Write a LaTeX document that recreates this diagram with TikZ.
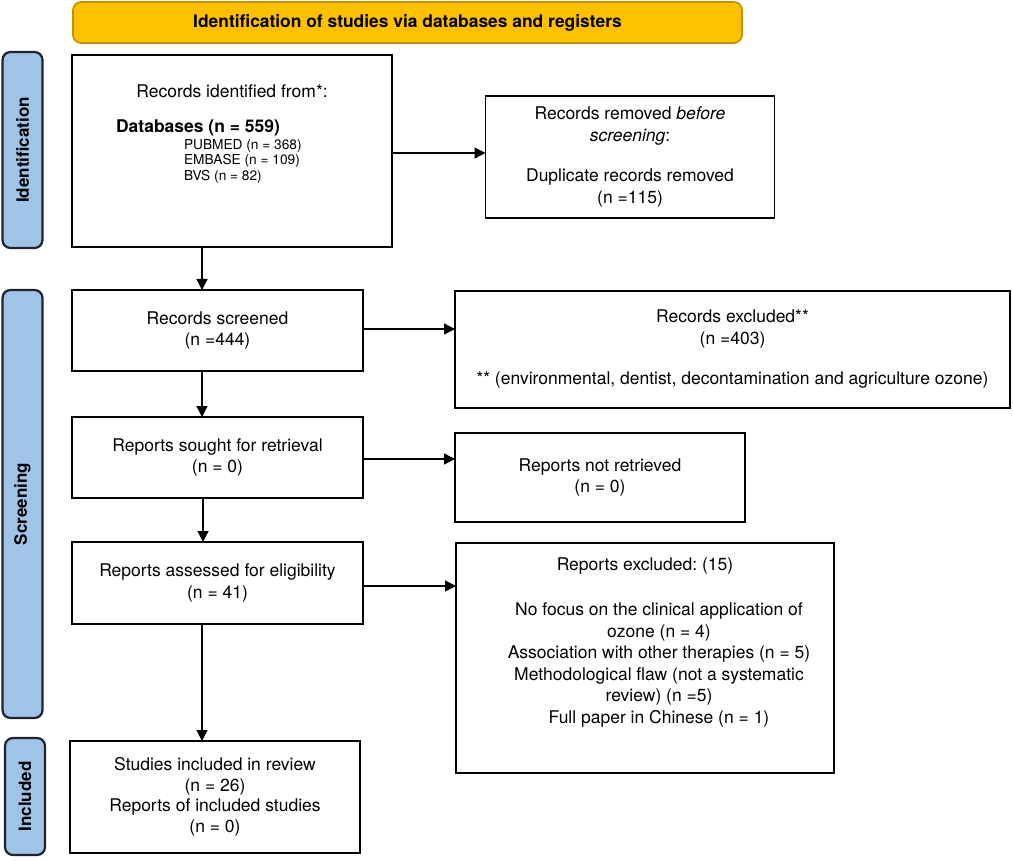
\documentclass[tikz,border=0pt]{standalone}
\usepackage{fontspec}
\setmainfont{TeX Gyre Heros}
\frenchspacing
\usetikzlibrary{arrows.meta}
\definecolor{hdrfill}{RGB}{255,192,0}
\definecolor{hdrdraw}{RGB}{191,144,0}
\definecolor{sidefill}{RGB}{160,196,232}
\definecolor{sidedraw}{RGB}{30,35,45}
\tikzset{
  every node/.style={inner sep=0pt, outer sep=0pt},
  txt/.style={font=\fontsize{17.5}{21.5}\selectfont, align=center},
  box/.style={draw=black, line width=1.8pt, txt, minimum width=#1},
  sidelab/.style={draw=sidedraw, fill=sidefill, line width=2.2pt, rounded corners=8pt, rotate=90,
    font=\fontsize{17}{20}\selectfont\bfseries, minimum height=40pt},
  arr/.style={line width=1.3pt, -{Triangle[length=11pt,width=11pt]}},
}
\begin{document}
\begin{tikzpicture}[x=1pt,y=-1pt]
\useasboundingbox (0,0) rectangle (1013,861);
% header
\node[draw=hdrdraw, fill=hdrfill, line width=1.6pt, rounded corners=8pt, minimum width=669pt, minimum height=41pt,
  font=\fontsize{17.4}{20}\selectfont\bfseries] (hdr) at (407.5,22.5) {Identification of studies via databases and registers};
% side labels
\node[sidelab, minimum width=196pt] (sid) at (22.5,150) {Identification};
\node[sidelab, minimum width=428pt] (sscr) at (22.5,504) {Screening};
\node[sidelab, minimum width=117pt] (sinc) at (25,796.5) {Included};
% box 1
\node[box=320pt, minimum height=192pt] (b1) at (232,151) {};
\node[txt, anchor=base] (t1a) at (232,98) {Records identified from*:};
\node[txt, anchor=base west, font=\fontsize{17.5}{21}\selectfont\bfseries] (t1b) at (116,133) {Databases (n = 559)};
\node[anchor=base west, font=\fontsize{13.7}{15.5}\selectfont] (t1c) at (184,149.5) {PUBMED (n = 368)};
\node[anchor=base west, font=\fontsize{13.7}{15.5}\selectfont] (t1d) at (184,165) {EMBASE (n = 109)};
\node[anchor=base west, font=\fontsize{13.7}{15.5}\selectfont] (t1e) at (184,180.5) {BVS (n = 82)};
% box 2
\node[box=289pt, minimum height=122pt] (b2) at (630,157) {Records removed \textit{before}\\ \textit{screening}:\\[19pt] Duplicate records removed\\ (n =115)};
% box 3
\node[box=291pt, minimum height=81pt] (b3) at (217.5,330.5) {Records screened\\ (n =444)};
% box 4
\node[box=555pt, minimum height=117pt] (b4) at (732.5,349.5) {Records excluded**\\ (n =403)\\[19pt] ** (environmental, dentist, decontamination and agriculture ozone)};
% box 7
\node[box=291pt, minimum height=81pt] (b7) at (217.5,457.5) {Reports sought for retrieval\\ (n = 0)};
% box 5
\node[box=290pt, minimum height=89pt] (b5) at (600,477.5) {Reports not retrieved\\ (n = 0)};
% box 8
\node[box=291pt, minimum height=82pt] (b8) at (217.5,583) {Reports assessed for eligibility\\ (n = 41)};
% box 6
\node[box=378pt, minimum height=230pt] (b6) at (645,658) {};
\node[txt, anchor=base] (t6a) at (645,570) {Reports excluded: (15)};
\node[txt] (t6b) at (659,665) {No focus on the clinical application of\\ ozone (n = 4)\\ Association with other therapies (n = 5)\\ Methodological flaw (not a systematic\\ review) (n =5)\\ Full paper in Chinese (n = 1)};
% box 9
\node[box=290pt, minimum height=112pt, font=\fontsize{17.5}{20.5}\selectfont] (b9) at (215,797) {Studies included in review\\ (n = 26)\\ Reports of included studies\\ (n = 0)};
% arrows
\draw[arr] (b1.east |- 0,153) -- (b2.west |- 0,153);
\draw[arr] (b3.east |- 0,329) -- (b4.west |- 0,329);
\draw[arr] (b7.east |- 0,459) -- (b5.west |- 0,459);
\draw[arr] (b8.east |- 0,586) -- (b6.west |- 0,586);
\draw[arr] (b1.south -| 202,0) -- (b3.north -| 202,0);
\draw[arr] (b3.south -| 202,0) -- (b7.north -| 202,0);
\draw[arr] (b7.south -| 203,0) -- (b8.north -| 203,0);
\draw[arr] (b8.south -| 202,0) -- (b9.north -| 202,0);
\end{tikzpicture}
\end{document}
